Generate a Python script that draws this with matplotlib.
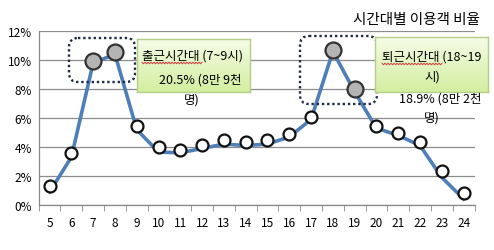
import numpy as np
import matplotlib
matplotlib.use("Agg")
from matplotlib import pyplot as plt
from matplotlib import transforms
from matplotlib.patches import FancyBboxPatch, Rectangle
from matplotlib.colors import LinearSegmentedColormap

plt.rcParams['font.family'] = ['Noto Sans CJK KR', 'DejaVu Sans']

hours = ['5', '6', '7', '8', '9', '10', '11', '12', '13', '14', '15', '16', '17', '18', '19', '20', '21', '22', '23', '24']
# marker values (%)
share = [1.33, 3.59, 9.95, 10.57, 5.43, 3.98, 3.79, 4.16, 4.48, 4.35, 4.48, 4.92, 6.1, 10.7, 8.0, 5.43, 4.94, 4.37, 2.32, 0.81]
# blue line sits slightly below the markers
line = [0.9, 3.3, 9.8, 10.4, 5.2, 3.65, 3.6, 3.9, 4.2, 4.1, 4.2, 4.7, 5.9, 10.6, 7.8, 5.3, 4.8, 4.1, 1.9, 0.42]
peak = ['7', '8', '18', '19']

W, H = 494, 251
fig = plt.figure(figsize=(W / 100, H / 100), dpi=100)
ax = fig.add_axes([38.7 / W, 1 - 206 / H, (474.5 - 38.7) / W, (206 - 32) / H])

x = np.arange(len(hours))
y = np.array(share) / 100
yl = np.array(line) / 100

ax.plot(x, yl, color='#4F7FB8', lw=2.6, zorder=3)
is_peak = np.array([h in peak for h in hours])
ax.plot(x[~is_peak], y[~is_peak], 'o', ms=8.6, mfc='white', mec='#111111', mew=1.6, ls='none', zorder=4)
ax.plot(x[is_peak], y[is_peak], 'o', ms=11.5, mfc='#B4B4B4', mec='#333333', mew=1.6, ls='none', zorder=4)

ax.set_xlim(-0.5, len(hours) - 0.5)
ax.set_ylim(0, 0.12)
ax.set_yticks(np.arange(0, 0.121, 0.02))
ax.set_yticklabels([f'{int(v)}%' for v in np.arange(0, 13, 2)], fontsize=8.5)
ax.set_xticks(x)
ax.set_xticklabels(hours, fontsize=8.5)
ax.set_xticks(np.arange(-0.5, len(hours), 1), minor=True)
ax.tick_params(axis='x', which='major', length=0, pad=8)
ax.tick_params(axis='x', which='minor', length=4, color='#888888', direction='out')
ax.tick_params(axis='y', length=0, pad=5)
ax.yaxis.grid(True, color='#8C8C8C', lw=0.9)
ax.set_axisbelow(True)
for s in ['top', 'right']:
    ax.spines[s].set_visible(False)
for s in ['left', 'bottom']:
    ax.spines[s].set_color('#888888')
    ax.spines[s].set_linewidth(0.9)

fig.text(480 / W, 1 - 20 / H, '시간대별 이용객 비율', ha='right', va='center', fontsize=10.5)

# pixel coordinates, origin at top-left
pxt = transforms.Affine2D().scale(1 / 100, -1 / 100).translate(0, H / 100) + fig.dpi_scale_trans

def px_box(x0, y0, x1, y1, r, **kw):
    return FancyBboxPatch((x0, y1), x1 - x0, -(y1 - y0) if False else (y1 - y0),
                          boxstyle=f'round,pad=0,rounding_size={r}', transform=pxt, **kw)

def dotted(x0, y0, x1, y1):
    p = FancyBboxPatch((x0, y0), x1 - x0, y1 - y0, boxstyle='round,pad=0,rounding_size=9',
                       transform=pxt, fill=False, ec='#1F2A44', lw=1.7, ls=(0, (1, 1.2)), zorder=5)
    fig.patches.append(p)

dotted(69, 39, 135, 83)
dotted(300, 37, 377, 105)

green = LinearSegmentedColormap.from_list('g', ['#F5FCE6', '#D3EEA0'])

def callout(x0, y0, x1, y1):
    cax = fig.add_axes([x0 / W, 1 - y1 / H, (x1 - x0) / W, (y1 - y0) / H], zorder=6)
    cax.imshow(np.linspace(0, 1, 50).reshape(-1, 1), cmap=green, aspect='auto', extent=[0, 1, 0, 1])
    cax.set_xticks([])
    cax.set_yticks([])
    for s in cax.spines.values():
        s.set_color('#B5CC8A')
        s.set_linewidth(1)
    return cax

callout(137, 40, 250, 93)
callout(375, 38, 488, 93)

def ftext(px, py, s):
    fig.text(px / W, 1 - py / H, s, fontsize=9, va='center', zorder=8)

ftext(142, 56, '출근시간대 (7~9시)')
ftext(159, 80, '20.5% (8만 9천')
ftext(184, 100, '명)')
ftext(382, 57, '퇴근시간대 (18~19')
ftext(424, 77, '시)')
ftext(399, 99, '18.9% (8만 2천')
ftext(424, 118, '명)')

# red spell-check squiggles
def squiggle(x0, x1, yy):
    xs = np.arange(x0, x1 + 0.1, 1.5)
    ys = yy + np.where(np.arange(len(xs)) % 2 == 0, -0.8, 0.8)
    fig.add_artist(plt.Line2D(xs, ys, transform=pxt, color='#D23C3C', lw=0.7, zorder=9))

squiggle(142, 202, 64)
squiggle(382, 442, 65)

fig.savefig('out.png', dpi=100)
